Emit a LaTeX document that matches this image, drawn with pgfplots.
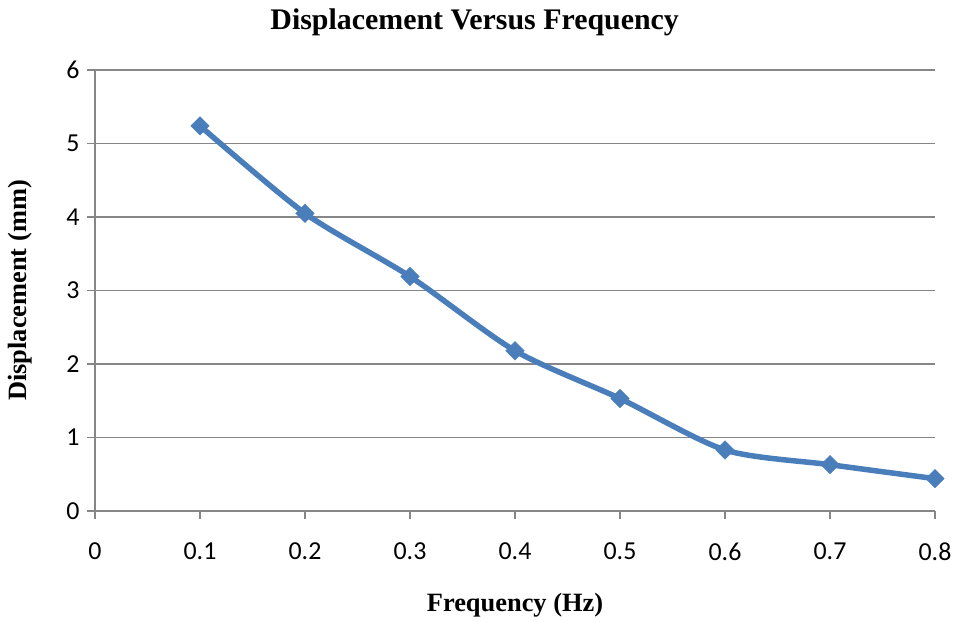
\documentclass[border=0pt]{standalone}
\usepackage{fontspec}
\setmainfont{Carlito}
\newfontfamily\tnr{Liberation Serif}
\usepackage{pgfplots}
\pgfplotsset{compat=1.18}

\definecolor{serblue}{HTML}{4A7EBB}
\definecolor{gridgray}{HTML}{868686}

\begin{document}
\begin{tikzpicture}[x=1bp,y=1bp]
\begin{axis}[
  scale only axis,
  width=840bp, height=441bp,
  xmin=0, xmax=0.8, ymin=0, ymax=6,
  xtick={0,0.1,0.2,0.3,0.4,0.5,0.6,0.7,0.8},
  xticklabels={0,0.1,0.2,0.3,0.4,0.5,0.6,0.7,0.8},
  ytick={0,1,2,3,4,5,6},
  axis x line*=bottom, axis y line*=left,
  axis line style={gridgray, line width=1.2bp, -},
  tick align=outside,
  major tick length=8bp,
  tick style={gridgray, line width=1.2bp},
  ymajorgrids,
  major grid style={gridgray, line width=1.2bp},
  tick label style={font=\fontsize{26}{30}\selectfont},
  /pgf/number format/assume math mode=true,
  xticklabel style={yshift=-20bp},
  yticklabel style={xshift=-4bp},
  clip=false,
]
\addplot[serblue, line width=5.5bp, smooth, tension=0.45,
  mark=square*, mark size=6.5bp,
  mark options={fill=serblue, draw=serblue, line width=0.5bp, rotate=45}]
  coordinates {
  (0.1,5.24)
  (0.2,4.05)
  (0.3,3.19)
  (0.4,2.18)
  (0.5,1.53)
  (0.6,0.83)
  (0.7,0.63)
  (0.8,0.44)
};
\node[font=\tnr\bfseries\fontsize{30}{34}\selectfont] at (rel axis cs:0.452,1) [yshift=48bp] {Displacement Versus Frequency};
\node[font=\tnr\bfseries\fontsize{26.5}{30}\selectfont] at (rel axis cs:0.5,0) [yshift=-94bp] {Frequency (Hz)};
\node[font=\tnr\bfseries\fontsize{26.5}{30}\selectfont, rotate=90] at (rel axis cs:-0.0893,0.5) {Displacement (mm)};
\coordinate (bl) at (rel axis cs:0,0);
\coordinate (tr) at (rel axis cs:1,1);
\end{axis}
\pgfresetboundingbox
\path[use as bounding box] ([xshift=-95bp,yshift=-111bp]bl) rectangle ([xshift=21bp,yshift=70bp]tr);
\end{tikzpicture}
\end{document}
